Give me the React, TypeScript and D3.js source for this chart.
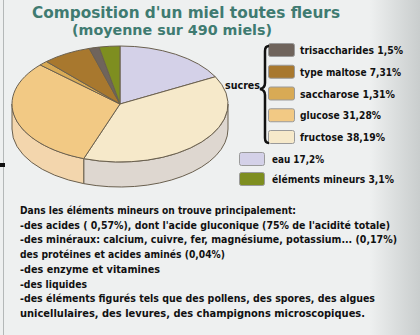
import React from 'react';
import * as d3 from 'd3';

// slices, in drawing order (clockwise from 12 o'clock)
const sliceNames = ['eau', 'fructose', 'glucose', 'saccharose', 'maltose', 'trisaccharides', 'mineurs'];
const sliceValues = [17.2, 38.19, 31.28, 1.31, 7.31, 1.5, 3.1];

const sugarLabels = ['trisaccharides 1,5%', 'type maltose 7,31%', 'saccharose 1,31%', 'glucose 31,28%', 'fructose 38,19%'];
const sugarKeys = ['trisaccharides', 'maltose', 'saccharose', 'glucose', 'fructose'];
const otherLabels = ['eau 17,2%', 'éléments mineurs 3,1%'];
const otherKeys = ['eau', 'mineurs'];

const notes = [
    'Dans les éléments mineurs on trouve principalement:',
    "-des acides ( 0,57%), dont l'acide gluconique (75% de l'acidité totale)",
    '-des minéraux: calcium, cuivre, fer, magnésiume, potassium... (0,17%)',
    'des protéines et acides aminés (0,04%)',
    '-des enzyme et vitamines',
    '-des liquides',
    '-des éléments figurés tels que des pollens, des spores, des algues',
    'unicellulaires, des levures, des champignons microscopiques.',
];
const noteWidths = [276, 370, 377, 205, 140, 67, 355, 345];

const topColor: Record<string, string> = {
    eau: '#d4d1e8',
    fructose: '#f6e9ca',
    glucose: '#f2c984',
    saccharose: '#d8aa55',
    maltose: '#a8782e',
    trisaccharides: '#6f645c',
    mineurs: '#7e8e20',
};
const sideColor: Record<string, string> = {
    eau: '#bdbad0',
    fructose: '#ded7d0',
    glucose: '#f3d6ad',
    saccharose: '#c99a48',
    maltose: '#946826',
    trisaccharides: '#5f554e',
    mineurs: '#6e7c1a',
};

const W = 420;
const H = 335;
const cx = 120, cy = 104, rx = 108, ry = 58, depth = 25;
const stroke = '#6a604f';

const pt = (a: number, dy = 0): [number, number] => [cx + rx * Math.sin(a), cy - ry * Math.cos(a) + dy];

const App: React.FC = () => {
    const pie = d3.pie<number>().sort(null).value(d => d);
    const arcs = pie(sliceValues);
    const arc = d3.arc<d3.PieArcDatum<number>>().innerRadius(0).outerRadius(rx);

    // visible front side of each slice
    const sides = arcs.map((a, i) => {
        const s = Math.max(a.startAngle, Math.PI / 2);
        const e = Math.min(a.endAngle, Math.PI * 1.5);
        if (e <= s) return null;
        const p0 = pt(s), p1 = pt(e), p2 = pt(e, depth), p3 = pt(s, depth);
        const d = `M${p0[0]},${p0[1]} A${rx},${ry} 0 0 1 ${p1[0]},${p1[1]} L${p2[0]},${p2[1]} A${rx},${ry} 0 0 0 ${p3[0]},${p3[1]} Z`;
        return { d, key: sliceNames[i] };
    }).filter(Boolean) as { d: string; key: string }[];

    const sugarY = d3.scalePoint<string>().domain(sugarKeys).range([50, 137]);
    const otherY = d3.scalePoint<string>().domain(otherKeys).range([159, 179]);
    const noteY = d3.scaleLinear().domain([0, notes.length - 1]).range([214, 317]);

    const font = '"DejaVu Sans Condensed", "DejaVu Sans", sans-serif';
    const titleFont = '"DejaVu Sans", Verdana, sans-serif';

    return (
        <svg width={W} height={H} style={{ position: 'absolute', left: 0, top: 0 }}>
            <defs>
                <linearGradient id="bg" x1="0" x2="1" y1="0" y2="0">
                    <stop offset="0%" stopColor="#eef0f0" />
                    <stop offset="88%" stopColor="#eef0f0" />
                    <stop offset="100%" stopColor="#c9cdcd" />
                </linearGradient>
            </defs>
            <rect width={W} height={H} fill="url(#bg)" />
            <line x1={3.5} x2={3.5} y1={0} y2={H} stroke="#b4b8b8" />
            <rect x={0} y={163} width={5} height={4} fill="#111" />

            <text x={32} y={18} fill="#3f7b71" fontFamily={titleFont} fontWeight="bold" fontSize={16}
                textLength={308} lengthAdjust="spacingAndGlyphs">Composition d'un miel toutes fleurs</text>
            <text x={72} y={35} fill="#3f7b71" fontFamily={titleFont} fontWeight="bold" fontSize={14}
                textLength={200} lengthAdjust="spacingAndGlyphs">(moyenne sur 490 miels)</text>

            {sides.map(s => (
                <path key={'side-' + s.key} d={s.d} fill={sideColor[s.key]} stroke={stroke} strokeWidth={1} />
            ))}
            <g transform={`translate(${cx},${cy}) scale(1,${ry / rx})`}>
                {arcs.map((a, i) => (
                    <path key={sliceNames[i]} d={arc(a) || ''} fill={topColor[sliceNames[i]]}
                        stroke={stroke} strokeWidth={1} vectorEffect="non-scaling-stroke" />
                ))}
            </g>

            {sugarKeys.map((k, i) => (
                <g key={k}>
                    <rect x={268.5} y={(sugarY(k) || 0) - 6.5} width={26} height={13} rx={2}
                        fill={topColor[k]} stroke="#9a9a9a" />
                    <text x={300} y={(sugarY(k) || 0) + 4} fontFamily={font} fontWeight="bold" fontSize={11}
                        fill="#111" textLength={[103, 101, 95, 81, 85][i]} lengthAdjust="spacingAndGlyphs">{sugarLabels[i]}</text>
                </g>
            ))}
            {otherKeys.map((k, i) => (
                <g key={k}>
                    <rect x={239.5} y={(otherY(k) || 0) - 6.5} width={25} height={13} rx={2}
                        fill={topColor[k]} stroke="#9a9a9a" />
                    <text x={272} y={(otherY(k) || 0) + 4} fontFamily={font} fontWeight="bold" fontSize={11}
                        fill="#111" textLength={[52, 122][i]} lengthAdjust="spacingAndGlyphs">{otherLabels[i]}</text>
                </g>
            ))}

            <path d="M269,46 Q265,46 265,51 L265,83 Q265,88 260,89 Q265,90 265,95 L265,138 Q265,143 269,143"
                fill="none" stroke="#111" strokeWidth={2.5} />
            <text x={225} y={89} fontFamily={font} fontWeight="bold" fontSize={11} fill="#111"
                textLength={35} lengthAdjust="spacingAndGlyphs">sucres</text>

            {notes.map((t, i) => (
                <text key={i} x={20} y={noteY(i)} fontFamily={font} fontWeight="bold" fontSize={11}
                    fill="#111" textLength={noteWidths[i]} lengthAdjust="spacingAndGlyphs">{t}</text>
            ))}
        </svg>
    );
};

export default App;
